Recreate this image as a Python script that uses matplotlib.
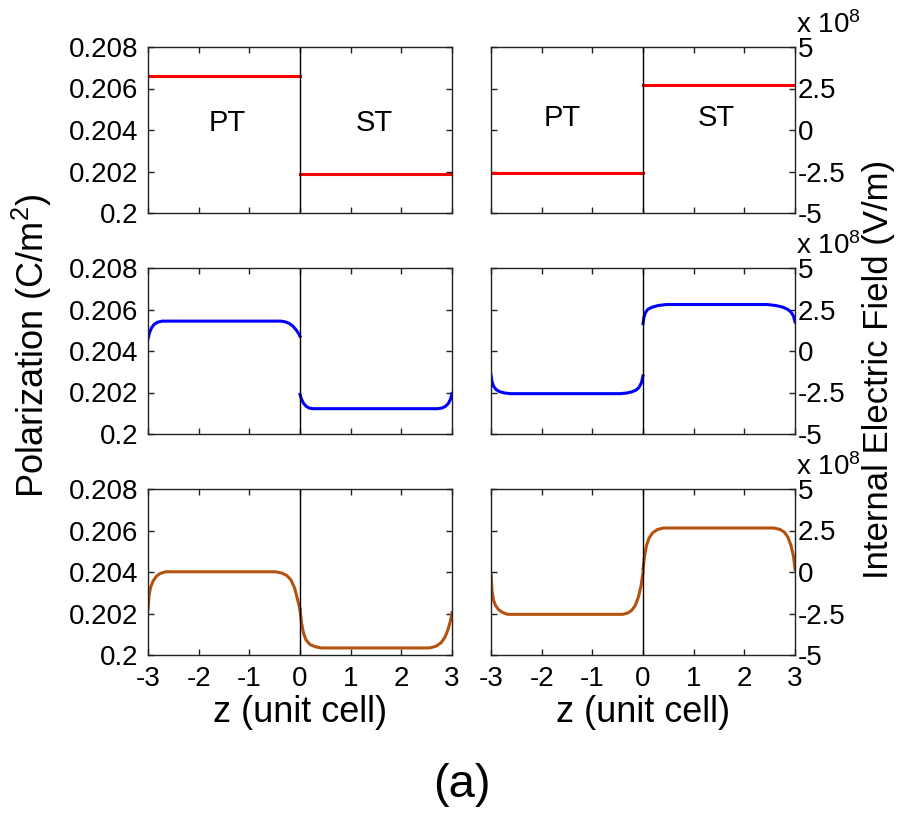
import matplotlib
matplotlib.use('Agg')
import matplotlib.pyplot as plt

plt.rcParams['font.family'] = ['Liberation Sans', 'DejaVu Sans']
plt.rcParams['mathtext.fontset'] = 'custom'
plt.rcParams['mathtext.rm'] = 'Liberation Sans'
plt.rcParams['mathtext.it'] = 'Liberation Sans:italic'
plt.rcParams['mathtext.bf'] = 'Liberation Sans:bold'
plt.rcParams['axes.unicode_minus'] = False

# z positions (unit cell) and profiles, PT side (z<0) and ST side (z>0)
# polarization in C/m^2, field in units of 1e8 V/m

# row 1: uniform
z_pt_flat = [-3, 0]
z_st_flat = [0, 3]
p_top_pt = [0.20661, 0.20661]
p_top_st = [0.20186, 0.20186]
e_top_pt = [-2.6, -2.6]
e_top_st = [2.74, 2.74]

# row 2
z_mid_p_pt = [-3, -2.97, -2.93, -2.88, -2.82, -2.72, -0.38, -0.3, -0.22, -0.15, -0.08, -0.03, 0]
p_mid_pt = [0.20459, 0.20488, 0.20512, 0.20528, 0.20538, 0.20544, 0.20544, 0.20541,
            0.20534, 0.20522, 0.20503, 0.20485, 0.20471]
z_mid_p_st = [0, 0.03, 0.07, 0.12, 0.18, 0.26, 2.72, 2.8, 2.87, 2.93, 2.97, 3]
p_mid_st = [0.20191, 0.20167, 0.20148, 0.20134, 0.20125, 0.20122, 0.20122, 0.20125,
            0.20133, 0.20148, 0.20168, 0.20195]

z_mid_e_pt = [-3, -2.98, -2.95, -2.9, -2.83, -2.73, -2.62, -0.45, -0.32, -0.22,
              -0.14, -0.08, -0.03, 0]
e_mid_pt = [-1.45, -1.85, -2.12, -2.32, -2.45, -2.53, -2.57, -2.57, -2.53, -2.46,
            -2.36, -2.2, -1.9, -1.5]
z_mid_e_st = [0, 0.02, 0.05, 0.1, 0.18, 0.3, 0.46, 2.45, 2.62, 2.75, 2.85, 2.92, 2.97, 3]
e_mid_st = [1.65, 2.05, 2.33, 2.52, 2.64, 2.74, 2.8, 2.8, 2.74, 2.65, 2.52, 2.35, 2.1, 1.75]

# row 3
z_bot_p_pt = [-3, -2.98, -2.95, -2.9, -2.84, -2.76, -2.65, -0.48, -0.36, -0.26,
              -0.18, -0.11, -0.05, 0]
p_bot_pt = [0.2022, 0.20285, 0.20326, 0.20356, 0.20378, 0.20393, 0.20401, 0.20401,
            0.20395, 0.20383, 0.20362, 0.20325, 0.2027, 0.2022]
z_bot_p_st = [0, 0.03, 0.07, 0.12, 0.2, 0.3, 0.42, 2.56, 2.68, 2.78, 2.86, 2.92, 2.97, 3]
p_bot_st = [0.2022, 0.20155, 0.20105, 0.20072, 0.2005, 0.2004, 0.20034, 0.20034,
            0.20042, 0.20058, 0.20085, 0.20122, 0.20165, 0.20204]

z_bot_e_pt = [-3, -2.98, -2.95, -2.91, -2.85, -2.77, -2.67, -0.4, -0.3, -0.22,
              -0.15, -0.09, -0.04, 0]
e_bot_pt = [-0.05, -1.15, -1.7, -2.02, -2.27, -2.44, -2.55, -2.55, -2.47, -2.3,
            -2.0, -1.5, -0.85, -0.05]
z_bot_e_st = [0, 0.03, 0.07, 0.12, 0.19, 0.28, 0.4, 2.58, 2.7, 2.79, 2.86, 2.92, 2.97, 3]
e_bot_st = [0.15, 0.95, 1.6, 2.05, 2.36, 2.55, 2.65, 2.65, 2.57, 2.4, 2.1, 1.6, 0.95, 0.15]

row_colors = ['#ff0000', '#0000ff', '#b4520f']

p_rows = [(z_pt_flat, p_top_pt, z_st_flat, p_top_st),
          (z_mid_p_pt, p_mid_pt, z_mid_p_st, p_mid_st),
          (z_bot_p_pt, p_bot_pt, z_bot_p_st, p_bot_st)]
e_rows = [(z_pt_flat, e_top_pt, z_st_flat, e_top_st),
          (z_mid_e_pt, e_mid_pt, z_mid_e_st, e_mid_st),
          (z_bot_e_pt, e_bot_pt, z_bot_e_st, e_bot_st)]

p_ticks = [0.2, 0.202, 0.204, 0.206, 0.208]
p_ticklabels = ['0.2', '0.202', '0.204', '0.206', '0.208']
e_ticks = [-5, -2.5, 0, 2.5, 5]
e_ticklabels = ['-5', '-2.5', '0', '2.5', '5']
z_ticks = [-3, -2, -1, 0, 1, 2, 3]

W, H = 905, 814
fig = plt.figure(figsize=(W / 100, H / 100), dpi=100)

row_top = [47, 268, 489]
row_h = 166
col_left = [148, 491]
col_w = 304

tick_fs = 20
for r in range(3):
    for c in range(2):
        ax = fig.add_axes([col_left[c] / W, 1 - (row_top[r] + row_h) / H,
                           col_w / W, row_h / H])
        za, ya, zb, yb = (p_rows if c == 0 else e_rows)[r]
        ax.plot(za, ya, color=row_colors[r], lw=2.2, solid_joinstyle='round')
        ax.plot(zb, yb, color=row_colors[r], lw=2.2, solid_joinstyle='round')
        ax.axvline(0, color='black', lw=1.0)
        ax.set_xlim(-3, 3)
        ax.set_xticks(z_ticks)
        for s in ax.spines.values():
            s.set_linewidth(1.0)
            s.set_color('#222222')
        ax.tick_params(direction='in', length=4, width=1.0, top=True, right=True,
                       left=True, bottom=True, labelsize=tick_fs, color='#222222')
        if c == 0:
            ax.set_ylim(0.2, 0.208)
            ax.set_yticks(p_ticks)
            ax.set_yticklabels(p_ticklabels)
            ax.tick_params(axis='y', pad=7)
        else:
            ax.set_ylim(-5, 5)
            ax.set_yticks(e_ticks)
            ax.set_yticklabels(e_ticklabels)
            ax.tick_params(axis='y', labelleft=False, labelright=True, pad=2)
            ax.annotate(r'x 10$^8$', xy=(1, 1), xycoords='axes fraction',
                        xytext=(1, 10), textcoords='offset points',
                        ha='left', va='baseline', fontsize=tick_fs)
        if r < 2:
            ax.tick_params(axis='x', labelbottom=False)
        else:
            ax.tick_params(axis='x', pad=8)
            ax.set_xlabel('z (unit cell)', fontsize=26, labelpad=2)
        if r == 0:
            yc = 0.20432 if c == 0 else 0.75
            xs = (-1.43, 1.46) if c == 0 else (-1.6, 1.45)
            ax.text(xs[0], yc, 'PT', ha='center', va='center', fontsize=21)
            ax.text(xs[1], yc, 'ST', ha='center', va='center', fontsize=21)

fig.text(32 / W, 1 - 346 / H, 'Polarization (C/m$^2$)', rotation=90,
         ha='center', va='center', fontsize=26)
fig.text(878 / W, 1 - 369 / H, 'Internal Electric Field (V/m)', rotation=90,
         ha='center', va='center', fontsize=25)
fig.text(462 / W, 1 - 785 / H, '(a)', ha='center', va='center', fontsize=34)

fig.savefig('out.png', dpi=100)
